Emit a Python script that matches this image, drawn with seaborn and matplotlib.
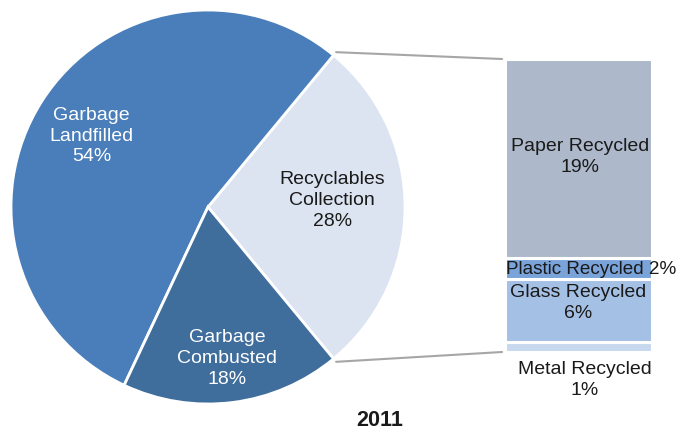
import numpy as np
import matplotlib
matplotlib.use("Agg")
import matplotlib.pyplot as plt
from matplotlib.patches import ConnectionPatch
import seaborn as sns

# Municipal solid waste breakdown, 2011
pie_labels = ["Recyclables\nCollection", "Garbage\nLandfilled", "Garbage\nCombusted"]
pie_values = [28, 54, 18]
pie_colors = ["#DCE4F2", "#4A7EBB", "#3F6D9C"]
pie_text_colors = ["#1a1a1a", "white", "white"]

# Recycled materials, stacked bottom to top
bar_labels = ["Metal Recycled", "Glass Recycled", "Plastic Recycled", "Paper Recycled"]
bar_values = [1, 6, 2, 19]
bar_colors = ["#C7D8EF", "#A5C0E5", "#7AA4D9", "#ADB9CA"]

title = "2011"

sns.set_theme(style="white")
plt.rcParams["font.family"] = ["Liberation Sans", "DejaVu Sans"]

FS = 14
LS = 1.3

W, H = 680, 435
fig = plt.figure(figsize=(W / 100, H / 100), dpi=100)

# Pie axes: centre (208, 208) px, radius 197 px
cx, cy, r = 208, 208, 197
ax_pie = fig.add_axes([(cx - r) / W, (H - cy - r) / H, 2 * r / W, 2 * r / H])
start = -pie_values[0] / 100 * 360 / 2
wedges, _ = ax_pie.pie(pie_values, colors=pie_colors, startangle=start,
                       counterclock=True, radius=1,
                       wedgeprops=dict(edgecolor="white", linewidth=2))
ax_pie.set_xlim(-1, 1)
ax_pie.set_ylim(-1, 1)
ax_pie.set_aspect("equal")
ax_pie.axis("off")

label_dist = [0.63, 0.70, 0.77]
label_shift = [0.04, -0.01, 0.0]
for w, lab, val, tc, d, s in zip(wedges, pie_labels, pie_values, pie_text_colors,
                                  label_dist, label_shift):
    mid = np.deg2rad((w.theta1 + w.theta2) / 2)
    ax_pie.text(d * np.cos(mid), d * np.sin(mid) + s, f"{lab}\n{val}%",
                ha="center", va="center", color=tc, fontsize=FS,
                linespacing=LS)

# Stacked bar axes: x 505..652 px, y 60..353 px
bx0, bx1, by0, by1 = 505, 652, 60, 353
ax_bar = fig.add_axes([bx0 / W, (H - by1) / H, (bx1 - bx0) / W, (by1 - by0) / H])
bottoms = np.concatenate([[0], np.cumsum(bar_values)[:-1]])
ax_bar.bar([0] * len(bar_values), bar_values, bottom=bottoms, width=1.0,
           color=bar_colors, edgecolor="white", linewidth=2.2)
total = sum(bar_values)
ax_bar.set_xlim(-0.5, 0.5)
ax_bar.set_ylim(0, total)
ax_bar.axis("off")

for lab, val, b in zip(bar_labels, bar_values, bottoms):
    mid = b + val / 2
    if lab.startswith("Paper"):
        ax_bar.text(0.01, mid + 0.2, f"{lab}\n{val}%", ha="center", va="center",
                    fontsize=FS, color="#1a1a1a", linespacing=LS)
    elif lab.startswith("Glass"):
        ax_bar.text(0.0, mid + 0.75, f"{lab}\n{val}%", ha="center", va="center",
                    fontsize=FS, color="#1a1a1a", linespacing=LS)
    elif lab.startswith("Plastic"):
        ax_bar.text(0.085, mid, f"{lab} {val}%", ha="center", va="center",
                    fontsize=13.6, color="#1a1a1a")
    else:
        ax_bar.text(0.04, -2.55, f"{lab}\n{val}%", ha="center", va="center",
                    fontsize=FS, color="#1a1a1a", linespacing=LS)

# Connector lines from the recyclables wedge to the bar
rec = wedges[0]
for ang, ybar in [(rec.theta2, total), (rec.theta1, 0)]:
    a = np.deg2rad(ang)
    con = ConnectionPatch(xyA=(1.02 * np.cos(a), 1.02 * np.sin(a)), coordsA=ax_pie.transData,
                          xyB=(-0.52, ybar), coordsB=ax_bar.transData,
                          color="#A6A6A6", linewidth=1.5)
    fig.add_artist(con)

fig.text(380 / W, 1 - 421 / H, title, ha="center", va="center",
         fontsize=15.5, fontweight="bold", color="#1a1a1a")

fig.savefig("out.png", dpi=100, facecolor="white")
